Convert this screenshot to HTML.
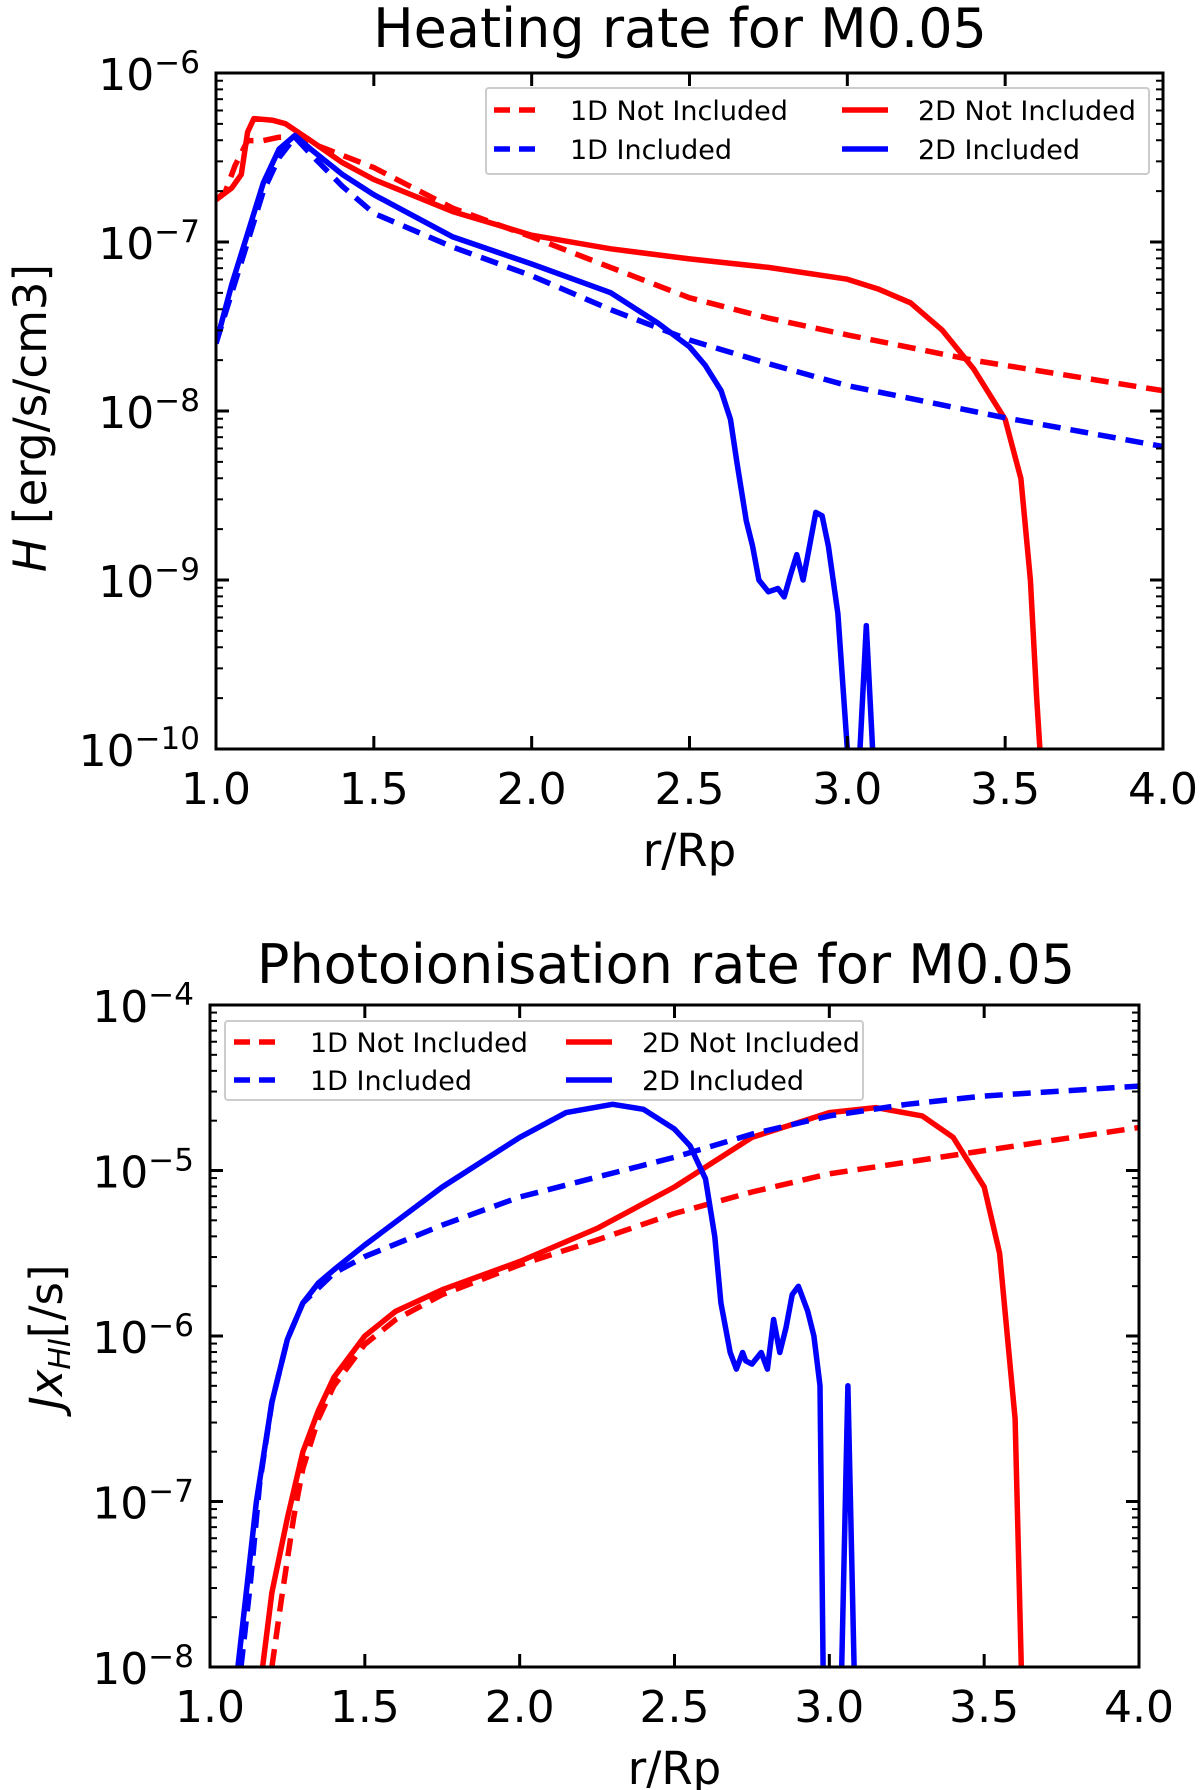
<!DOCTYPE html>
<html><head><meta charset="utf-8"><style>
body{margin:0;background:#fff}
svg{display:block;font-family:"DejaVu Sans","Liberation Sans",sans-serif}
</style></head><body>
<svg id="fig" width="1200" height="1790" viewBox="0 0 1200 1790" xmlns="http://www.w3.org/2000/svg"></svg>
<script>
// ---- Heating rate data (x = r/Rp, y = log10 H) ----
const hx_1dNot = [1.0,1.03,1.06,1.1,1.15,1.2,1.25,1.35,1.5,1.75,2.0,2.25,2.5,2.75,3.0,3.4,4.0];
const hy_1dNot = [-6.75,-6.7,-6.55,-6.4,-6.4,-6.38,-6.38,-6.45,-6.56,-6.8,-6.97,-7.15,-7.33,-7.45,-7.55,-7.7,-7.88];
const hx_1dInc = [1.0,1.05,1.1,1.15,1.2,1.25,1.3,1.4,1.5,1.75,2.0,2.25,2.5,2.75,3.0,3.5,4.0];
const hy_1dInc = [-7.6,-7.3,-7.0,-6.7,-6.5,-6.38,-6.48,-6.67,-6.83,-7.03,-7.2,-7.4,-7.58,-7.72,-7.85,-8.04,-8.21];
const hx_2dNot = [1.0,1.05,1.08,1.1,1.12,1.18,1.22,1.3,1.4,1.5,1.75,2.0,2.25,2.5,2.75,3.0,3.1,3.2,3.3,3.4,3.5,3.55,3.58,3.6,3.61];
const hy_2dNot = [-6.75,-6.68,-6.6,-6.35,-6.27,-6.28,-6.3,-6.4,-6.53,-6.63,-6.82,-6.96,-7.04,-7.1,-7.15,-7.22,-7.28,-7.36,-7.52,-7.75,-8.05,-8.4,-9.0,-9.7,-10];
const hx_2dInc = [1.0,1.05,1.1,1.15,1.2,1.25,1.3,1.4,1.5,1.75,2.0,2.25,2.4,2.5,2.55,2.6,2.63,2.65,2.68,2.7,2.72,2.75,2.78,2.8,2.82,2.84,2.86,2.88,2.9,2.92,2.94,2.97,3.0,null,3.04,3.06,3.08];
const hy_2dInc = [-7.6,-7.25,-6.95,-6.65,-6.45,-6.37,-6.45,-6.6,-6.72,-6.97,-7.13,-7.3,-7.48,-7.62,-7.73,-7.88,-8.05,-8.3,-8.65,-8.8,-9.0,-9.07,-9.05,-9.1,-8.97,-8.85,-9.0,-8.8,-8.6,-8.62,-8.8,-9.2,-10,null,-10,-9.27,-10];
// ---- Photoionisation data (x = r/Rp, y = log10 J) ----
const px_1dInc = [1.1,1.13,1.16,1.2,1.25,1.3,1.4,1.5,1.75,2.0,2.25,2.5,2.75,3.0,3.25,3.5,4.0];
const py_1dInc = [-8,-7.5,-6.9,-6.4,-6.02,-5.8,-5.62,-5.52,-5.33,-5.16,-5.04,-4.92,-4.78,-4.67,-4.6,-4.55,-4.49];
const px_1dNot = [1.2,1.23,1.27,1.3,1.35,1.4,1.5,1.6,1.75,2.0,2.25,2.5,2.75,3.0,3.5,4.0];
const py_1dNot = [-8,-7.6,-7.1,-6.8,-6.5,-6.3,-6.05,-5.9,-5.75,-5.57,-5.42,-5.26,-5.13,-5.02,-4.88,-4.74];
const px_2dNot = [1.17,1.2,1.25,1.3,1.35,1.4,1.5,1.6,1.75,2.0,2.25,2.5,2.75,3.0,3.15,3.3,3.4,3.5,3.55,3.6,3.62];
const py_2dNot = [-8,-7.55,-7.1,-6.7,-6.45,-6.25,-6.0,-5.85,-5.72,-5.55,-5.35,-5.1,-4.8,-4.65,-4.62,-4.67,-4.8,-5.1,-5.5,-6.5,-8];
const px_2dInc = [1.09,1.12,1.15,1.2,1.25,1.3,1.35,1.4,1.5,1.75,2.0,2.15,2.3,2.4,2.5,2.55,2.6,2.63,2.65,2.68,2.7,2.72,2.73,2.75,2.78,2.8,2.82,2.84,2.86,2.88,2.9,2.93,2.95,2.97,2.98,null,3.04,3.06,3.08];
const py_2dInc = [-8,-7.5,-7.0,-6.4,-6.02,-5.8,-5.68,-5.6,-5.45,-5.1,-4.8,-4.65,-4.6,-4.63,-4.75,-4.85,-5.05,-5.4,-5.8,-6.1,-6.2,-6.1,-6.15,-6.17,-6.1,-6.2,-5.9,-6.1,-5.95,-5.75,-5.7,-5.85,-6.0,-6.3,-8,null,-8,-6.3,-8];
const xTicks = [1.0,1.5,2.0,2.5,3.0,3.5,4.0];
const xTickLabels = ["1.0","1.5","2.0","2.5","3.0","3.5","4.0"];

const NS="http://www.w3.org/2000/svg";
const svg=document.getElementById('fig');
function mk(tag,attrs,parent){const e=document.createElementNS(NS,tag);for(const k in attrs)e.setAttribute(k,attrs[k]);(parent||svg).appendChild(e);return e;}

function panel(o){
  const g=mk('g',{});
  
  
  const X=v=>o.L+(v-1)/3*(o.R-o.L);
  const Y=v=>o.T+(o.ymax-v)/(o.ymax-o.ymin)*(o.B-o.T);
  const cid='clip'+o.name;
  const cp=mk('clipPath',{id:cid},g);mk('rect',{x:o.L,y:o.T,width:o.R-o.L,height:o.B-o.T},cp);
  o.series.forEach(s=>{
    let d='',pen=false;
    s.x.forEach((xv,i)=>{const yv=s.y[i];if(xv===null){pen=false;return;}d+=(pen?'L':'M')+X(xv).toFixed(1)+' '+Y(yv).toFixed(1);pen=true;});
    const p=mk('path',{d:d,fill:'none',stroke:s.c,'stroke-width':5.5,'stroke-dasharray':s.dash?'18 10':'none','clip-path':'url(#'+cid+')','stroke-linejoin':'round'},g);
    
    
  });
  const fr=mk('rect',{x:o.L,y:o.T,width:o.R-o.L,height:o.B-o.T,fill:'none',stroke:'#000','stroke-width':3},g);
  
  
  xTicks.forEach((t,i)=>{
    const x=X(t);
    mk('line',{x1:x,x2:x,y1:o.B,y2:o.B-13,stroke:'#000','stroke-width':3},g);
    mk('line',{x1:x,x2:x,y1:o.T,y2:o.T+13,stroke:'#000','stroke-width':3},g);
    const tx=mk('text',{x:x,y:o.B+55,'font-size':44,'text-anchor':'middle'},g);tx.textContent=xTickLabels[i];
    
    
  });
  for(let e=o.ymin;e<=o.ymax;e++){
    const y=Y(e);
    [o.L,o.R].forEach((xx,k)=>{const dir=k?-1:1;mk('line',{x1:xx,x2:xx+dir*13,y1:y,y2:y,stroke:'#000','stroke-width':3},g);
      if(e<o.ymax)for(let m=2;m<=9;m++){const ym=Y(e+Math.log10(m));mk('line',{x1:xx,x2:xx+dir*7,y1:ym,y2:ym,stroke:'#000','stroke-width':2},g);}});
    const tl=mk('text',{x:o.L-16,y:y+17,'font-size':44,'text-anchor':'end'},g);
    
    
    const t1=mk('tspan',{},tl);t1.textContent='10';
    const t2=mk('tspan',{dy:-17,'font-size':31},tl);t2.textContent='\u2212'+(-e);
  }
  const ti=mk('text',{x:o.titleX,y:o.titleY,'font-size':54,'text-anchor':'middle'},g);ti.textContent=o.title;
  
  
  const xl=mk('text',{x:(o.L+o.R)/2,y:o.B+117,'font-size':45,'text-anchor':'middle'},g);xl.textContent='r/Rp';
  
  
  const lg=mk('g',{},g);
  
  
  mk('rect',{x:o.lg.x,y:o.lg.y,width:o.lg.w,height:o.lg.h,fill:'#fff',stroke:'#ccc','stroke-width':2,rx:3},lg);
  o.series.forEach((s,i)=>{
    const col=i%2? o.lg.c2:o.lg.c1, row=Math.floor(i/2);
    const yy=o.lg.r[row];
    const e=mk('g',{},lg);
    
    
    mk('line',{x1:col,x2:col+46,y1:yy,y2:yy,stroke:s.c,'stroke-width':5.5,'stroke-dasharray':s.dash?'16 9':'none'},e);
    const t=mk('text',{x:col+76,y:yy+10,'font-size':27},e);t.textContent=s.label;
  });
  return {X,Y,g};
}

const heatPanel=panel({name:'heating-chart',L:216,R:1163,T:73,B:749,ymin:-10,ymax:-6,title:'Heating rate for M0.05',titleX:680,titleY:47,
  lg:{x:486,y:88,w:663,h:86,c1:494,c2:842,r:[110,149]},
  series:[
   {n:'line-1d-not-included',label:'1D Not Included',c:'#ff0000',dash:true,x:hx_1dNot,y:hy_1dNot},
   {n:'line-2d-not-included',label:'2D Not Included',c:'#ff0000',dash:false,x:hx_2dNot,y:hy_2dNot},
   {n:'line-1d-included',label:'1D Included',c:'#0000ff',dash:true,x:hx_1dInc,y:hy_1dInc},
   {n:'line-2d-included',label:'2D Included',c:'#0000ff',dash:false,x:hx_2dInc,y:hy_2dInc}]});
const yt1=mk('text',{x:0,y:0,'font-size':45,'text-anchor':'middle',transform:'translate(46 418) rotate(-90)'});


const ya=mk('tspan',{'font-style':'italic'},yt1);ya.textContent='H';
const yb=mk('tspan',{},yt1);yb.textContent=' [erg/s/cm3]';

const photoPanel=panel({name:'photoionisation-chart',L:210,R:1139,T:1005,B:1667,ymin:-8,ymax:-4,title:'Photoionisation rate for M0.05',titleX:666,titleY:983,
  lg:{x:225,y:1021,w:638,h:79,c1:234,c2:566,r:[1042,1080]},
  series:[
   {n:'line-1d-not-included',label:'1D Not Included',c:'#ff0000',dash:true,x:px_1dNot,y:py_1dNot},
   {n:'line-2d-not-included',label:'2D Not Included',c:'#ff0000',dash:false,x:px_2dNot,y:py_2dNot},
   {n:'line-1d-included',label:'1D Included',c:'#0000ff',dash:true,x:px_1dInc,y:py_1dInc},
   {n:'line-2d-included',label:'2D Included',c:'#0000ff',dash:false,x:px_2dInc,y:py_2dInc}]});
const yt2=mk('text',{x:0,y:0,'font-size':45,'text-anchor':'middle',transform:'translate(62 1337) rotate(-90)'});


const c1=mk('tspan',{'font-style':'italic'},yt2);c1.textContent='Jx';
const c2=mk('tspan',{'font-style':'italic','font-size':30,dy:8},yt2);c2.textContent='HI';
const c3=mk('tspan',{dy:-8},yt2);c3.textContent='[/s]';
</script>
</body></html>
